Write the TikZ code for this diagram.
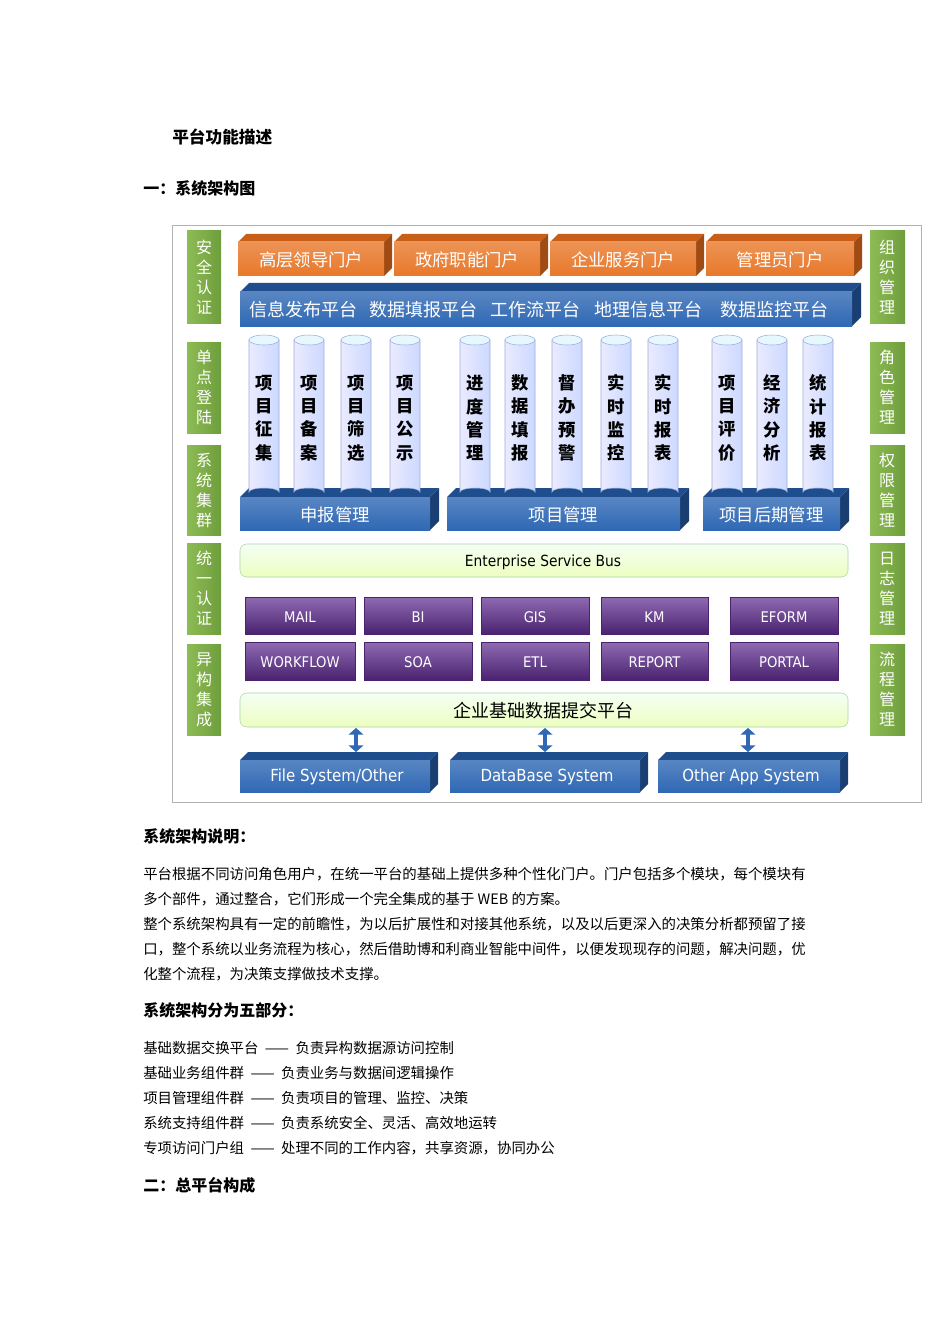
\documentclass[tikz,border=0pt]{standalone}
\usepackage{fontspec}
\setmainfont{Noto Sans CJK SC}
\newfontfamily\enf{DejaVu Sans Condensed}
\usetikzlibrary{arrows.meta}
\definecolor{gr}{HTML}{6E9E3C}
\definecolor{grl}{HTML}{8DBB55}
\definecolor{org}{HTML}{E8782A}
\definecolor{orgd}{HTML}{C85E18}
\definecolor{blu}{HTML}{2F68B4}
\definecolor{blud}{HTML}{1F4E8E}
\definecolor{pur}{HTML}{6A3A98}
\definecolor{purd}{HTML}{4A2270}
\newcommand\mythreed[7]{%
 \fill[#6] (#1,#2)--(#1+#7,#2-#7)--(#3+#7,#2-#7)--(#3,#2)--cycle;
 \fill[#6!80!black] (#3,#2)--(#3+#7,#2-#7)--(#3+#7,#4-#7)--(#3,#4)--cycle;
 \shade[top color=#5!80!white,bottom color=#5] (#1,#2) rectangle (#3,#4);}
\begin{document}
\begin{tikzpicture}[x=0.75pt,y=-0.75pt,
 hd/.style={anchor=west,font=\bfseries\fontsize{12}{14}\selectfont,inner sep=0},
 body/.style={anchor=west,font=\fontsize{10.8}{12}\selectfont,inner sep=0},
 side/.style={font=\fontsize{12}{15}\selectfont,text=white,align=center,inner sep=0},
 wt/.style={font=\fontsize{13}{15}\selectfont,text=white,inner sep=0},
 col/.style={font=\bfseries\fontsize{13}{17.5}\selectfont,align=center,inner sep=0},
 en/.style={font=\enf\fontsize{11}{13}\selectfont,text=white,inner sep=0}]
\useasboundingbox (0,0) rectangle (950,1344);
\fill[white] (0,0) rectangle (950,1344);
\node[hd,font=\bfseries\fontsize{12.5}{14}\selectfont] (t1) at (172,137) {平台功能描述};
\node[hd] (t2) at (143,188) {一：系统架构图};
\draw[gray!60] (172,225) rectangle (921,802);
% side bars
\foreach \a/\b/\l/\r [count=\i] in {231/323/安\\全\\认\\证/组\\织\\管\\理,342/433/单\\点\\登\\陆/角\\色\\管\\理,445/535/系\\统\\集\\群/权\\限\\管\\理,543/634/统\\一\\认\\证/日\\志\\管\\理,644/735/异\\构\\集\\成/流\\程\\管\\理}{
 \shade[left color=grl,right color=gr] (187,\a) rectangle (221,\b);
 \shade[left color=grl,right color=gr] (870,\a) rectangle (905,\b);
 \node[side] (L\i) at (204,{(\a+\b)/2}) {\l};
 \node[side] (R\i) at (887,{(\a+\b)/2}) {\r};}
% portals
\foreach \a/\b/\t [count=\i] in {238/384/高层领导门户,394/540/政府职能门户,550/696/企业服务门户,706/854/管理员门户}{
 \mythreed{\a}{242}{\b}{276}{org}{orgd}{8}
 \node[wt] (P\i) at ({(\a+\b)/2},260) {\t};}
% platform bar
\mythreed{240}{292}{852}{326}{blu}{blud}{9}
\foreach \x/\t [count=\i] in {303/信息发布平台,423/数据填报平台,535/工作流平台,648/地理信息平台,774/数据监控平台}
 \node[wt,font=\fontsize{13.5}{15}\selectfont] (Q\i) at (\x,310) {\t};
% bases
\foreach \a/\b/\t [count=\i] in {240/430/申报管理,447/680/项目管理,703/840/项目后期管理}{
 \mythreed{\a}{497}{\b}{530}{blu}{blud}{9}
 \node[wt] (B\i) at ({(\a+\b)/2},515) {\t};}
% cylinders
\foreach \x/\t [count=\i] in {264/项\\目\\征\\集,309/项\\目\\备\\案,356/项\\目\\筛\\选,405/项\\目\\公\\示,475/进\\度\\管\\理,520/数\\据\\填\\报,567/督\\办\\预\\警,616/实\\时\\监\\控,663/实\\时\\报\\表,727/项\\目\\评\\价,772/经\\济\\分\\析,818/统\\计\\报\\表}{
 \shade[left color=blue!8,right color=cyan!25!blue!20,draw=cyan!40!blue!40] (\x-15,340) -- (\x-15,492) arc[start angle=180,end angle=360,x radius=15,y radius=4] -- (\x+15,340) -- cycle;
 \filldraw[fill=cyan!10,draw=cyan!40!blue!40] (\x,340) ellipse[x radius=15,y radius=5];
 \node[col] (C\i) at (\x,418) {\t};}
% ESB
\shade[top color=white!60!green!10,bottom color=green!30!yellow!25,draw=green!30!gray!50,rounded corners=5] (240,544) rectangle (848,577);
\node[font=\enf\fontsize{11.5}{13}\selectfont,inner sep=0] (esb) at (543,562) {Enterprise Service Bus};
% purple
\foreach \a/\b/\t [count=\i] in {245/355/MAIL,364/472/BI,481/589/GIS,601/708/KM,730/838/EFORM}{
 \shade[top color=pur!75!white,bottom color=purd,draw=purd] (\a,597) rectangle (\b,634);
 \node[en] (U\i) at ({(\a+\b)/2},617) {\t};}
\foreach \a/\b/\t [count=\i] in {245/355/WORKFLOW,364/472/SOA,481/589/ETL,601/708/REPORT,730/838/PORTAL}{
 \shade[top color=pur!75!white,bottom color=purd,draw=purd] (\a,642) rectangle (\b,680);
 \node[en] (V\i) at ({(\a+\b)/2},662) {\t};}
% data platform
\shade[top color=white!60!green!10,bottom color=green!30!yellow!25,draw=green!30!gray!50,rounded corners=5] (240,693) rectangle (848,727);
\node[font=\fontsize{13.5}{15}\selectfont,inner sep=0] (dp) at (543,711) {企业基础数据提交平台};
% bottom systems
\foreach \a/\b/\t/\x [count=\i] in {240/430/File System\slash Other/356,450/640/DataBase System/545,658/840/Other App System/748}{
 \mythreed{\a}{760}{\b}{792}{blu}{blud}{8}
 \node[en,font=\enf\fontsize{12.5}{14}\selectfont] (S\i) at ({(\a+\b)/2+2},777) {\t};
 \coordinate (ta\i) at (\x,728);
 \coordinate (tb\i) at (\x,752);
 \draw[{Triangle[width=11pt,length=5pt]}-{Triangle[width=11pt,length=5pt]},line width=3.5pt,blu] (ta\i)--(tb\i);}
% text
\node[hd] (h3) at (143,836) {系统架构说明：};
\node[body] (p1) at (143,874) {平台根据不同访问角色用户，在统一平台的基础上提供多种个性化门户。门户包括多个模块，每个模块有};
\node[body] (p2) at (143,899) {多个部件，通过整合，它们形成一个完全集成的基于 WEB 的方案。};
\node[body] (p3) at (143,924) {整个系统架构具有一定的前瞻性，为以后扩展性和对接其他系统，以及以后更深入的决策分析都预留了接};
\node[body] (p4) at (143,949) {口，整个系统以业务流程为核心，然后借助博和利商业智能中间件，以便发现现存的问题，解决问题，优};
\node[body] (p5) at (143,974) {化整个流程，为决策支撑做技术支撑。};
\node[hd] (h4) at (143,1010) {系统架构分为五部分：};
\node[body] (l1) at (143,1048) {基础数据交换平台 \ —— \ 负责异构数据源访问控制};
\node[body] (l2) at (143,1073) {基础业务组件群 \ —— \ 负责业务与数据间逻辑操作};
\node[body] (l3) at (143,1098) {项目管理组件群 \ —— \ 负责项目的管理、监控、决策};
\node[body] (l4) at (143,1123) {系统支持组件群 \ —— \ 负责系统安全、灵活、高效地运转};
\node[body] (l5) at (143,1148) {专项访问门户组 \ —— \ 处理不同的工作内容，共享资源，协同办公};
\node[hd] (h5) at (143,1185) {二：总平台构成};
\end{tikzpicture}
\end{document}
